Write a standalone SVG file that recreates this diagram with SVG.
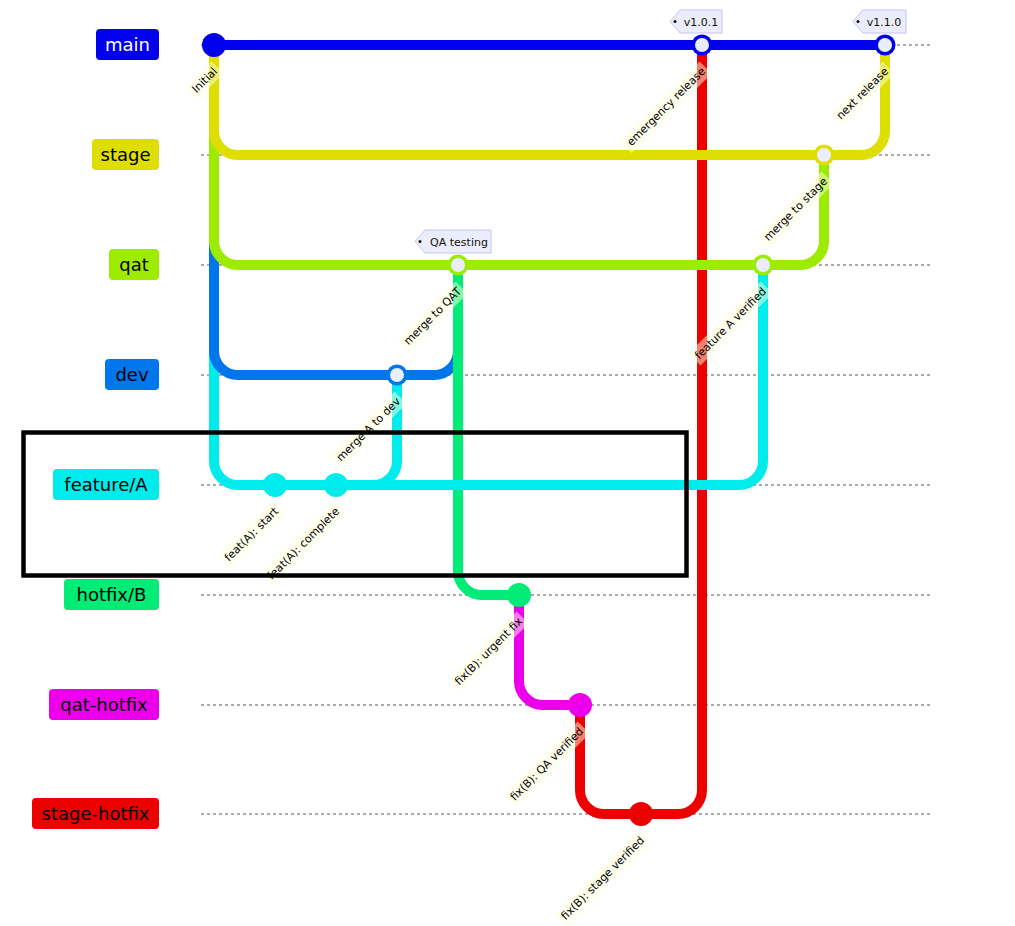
<svg xmlns="http://www.w3.org/2000/svg" width="1015" height="926" viewBox="0 0 1015 926">
<style>
.bl{stroke:#555;stroke-width:1;stroke-dasharray:3 3;fill:none}
.lbl{font-family:"DejaVu Sans",Verdana,sans-serif;font-size:18px;text-anchor:middle}
.ar{fill:none;stroke-width:10}
.clb{fill:#ffffde;opacity:0.5}
.clt{font-family:"DejaVu Sans",Verdana,sans-serif;font-size:11px;text-anchor:end;fill:#000}
.tag{fill:#ececff;stroke:#c4c4f0;stroke-width:1}
.tagt{font-family:"DejaVu Sans",Verdana,sans-serif;font-size:11px;text-anchor:middle;fill:#131300}
.inner{fill:#ececff}
</style>
<rect width="1015" height="926" fill="#fff"/>
<g id="branch-lines">
<line class="bl" x1="201" y1="45" x2="931" y2="45"/>
<line class="bl" x1="201" y1="155" x2="931" y2="155"/>
<line class="bl" x1="201" y1="265" x2="931" y2="265"/>
<line class="bl" x1="201" y1="375" x2="931" y2="375"/>
<line class="bl" x1="201" y1="485" x2="931" y2="485"/>
<line class="bl" x1="201" y1="595" x2="931" y2="595"/>
<line class="bl" x1="201" y1="705" x2="931" y2="705"/>
<line class="bl" x1="201" y1="814" x2="931" y2="814"/>
</g>
<g id="branch-main"><rect x="96" y="29" width="63" height="31" rx="4" fill="#0000ec"/><text class="lbl" x="127.5" y="51" fill="#fff">main</text></g>
<g id="branch-stage"><rect x="92" y="139" width="67" height="31" rx="4" fill="#dede00"/><text class="lbl" x="125.5" y="161" fill="#000">stage</text></g>
<g id="branch-qat"><rect x="109" y="249" width="50" height="31" rx="4" fill="#9dec00"/><text class="lbl" x="134" y="271" fill="#000">qat</text></g>
<g id="branch-dev"><rect x="105" y="359" width="54" height="31" rx="4" fill="#0076ec"/><text class="lbl" x="132" y="381" fill="#000">dev</text></g>
<g id="branch-featureA"><rect x="53" y="469" width="106" height="31" rx="4" fill="#00ecec"/><text class="lbl" x="106" y="491" fill="#000">feature/A</text></g>
<g id="branch-hotfixB"><rect x="64" y="579" width="95" height="31" rx="4" fill="#00ec76"/><text class="lbl" x="111.5" y="601" fill="#000">hotfix/B</text></g>
<g id="branch-qat-hotfix"><rect x="49" y="689" width="110" height="31" rx="4" fill="#ec00ec"/><text class="lbl" x="104" y="711" fill="#000">qat-hotfix</text></g>
<g id="branch-stage-hotfix"><rect x="32" y="798" width="127" height="31" rx="4" fill="#ec0000"/><text class="lbl" x="95.5" y="820" fill="#000">stage-hotfix</text></g>
<g id="connectors" class="ar">
<path stroke="#00ecec" d="M214 45 L214 461 A24 24 0 0 0 238 485 L275 485"/>
<path stroke="#00ecec" d="M275 485 L336 485"/>
<path stroke="#0076ec" d="M214 45 L214 351 A24 24 0 0 0 238 375 L397 375"/>
<path stroke="#00ecec" d="M336 485 L373 485 A24 24 0 0 0 397 461 L397 375"/>
<path stroke="#9dec00" d="M214 45 L214 241 A24 24 0 0 0 238 265 L458 265"/>
<path stroke="#0076ec" d="M397 375 L434 375 A24 24 0 0 0 458 351 L458 265"/>
<path stroke="#00ec76" d="M458 265 L458 571 A24 24 0 0 0 482 595 L519 595"/>
<path stroke="#ec00ec" d="M519 595 L519 681 A24 24 0 0 0 543 705 L580 705"/>
<path stroke="#ec0000" d="M580 705 L580 790 A24 24 0 0 0 604 814 L641 814"/>
<path stroke="#0000ec" d="M214 45 L702 45"/>
<path stroke="#ec0000" d="M641 814 L678 814 A24 24 0 0 0 702 790 L702 45"/>
<path stroke="#9dec00" d="M458 265 L763 265"/>
<path stroke="#00ecec" d="M336 485 L739 485 A24 24 0 0 0 763 461 L763 265"/>
<path stroke="#dede00" d="M214 45 L214 131 A24 24 0 0 0 238 155 L824 155"/>
<path stroke="#9dec00" d="M763 265 L800 265 A24 24 0 0 0 824 241 L824 155"/>
<path stroke="#0000ec" d="M702 45 L885 45"/>
<path stroke="#dede00" d="M824 155 L861 155 A24 24 0 0 0 885 131 L885 45"/>
</g>
<g id="commit-initial"><circle cx="214" cy="45" r="12" fill="#0000ec"/></g>
<g id="commit-feat-start"><circle cx="275" cy="485" r="12" fill="#00ecec"/></g>
<g id="commit-feat-complete"><circle cx="336" cy="485" r="12" fill="#00ecec"/></g>
<g id="commit-merge-a-dev"><circle cx="397" cy="375" r="10.5" fill="#0076ec"/><circle class="inner" cx="397" cy="375" r="7"/></g>
<g id="commit-merge-qat"><circle cx="458" cy="265" r="10.5" fill="#9dec00"/><circle class="inner" cx="458" cy="265" r="7"/></g>
<g id="commit-urgent-fix"><circle cx="519" cy="595" r="12" fill="#00ec76"/></g>
<g id="commit-qa-verified"><circle cx="580" cy="705" r="12" fill="#ec00ec"/></g>
<g id="commit-stage-verified"><circle cx="641" cy="814" r="12" fill="#ec0000"/></g>
<g id="commit-emergency"><circle cx="702" cy="45" r="10.5" fill="#0000ec"/><circle class="inner" cx="702" cy="45" r="7"/></g>
<g id="commit-feature-a-verified"><circle cx="763" cy="265" r="10.5" fill="#9dec00"/><circle class="inner" cx="763" cy="265" r="7"/></g>
<g id="commit-merge-stage"><circle cx="824" cy="155" r="10.5" fill="#dede00"/><circle class="inner" cx="824" cy="155" r="7"/></g>
<g id="commit-next-release"><circle cx="885" cy="45" r="10.5" fill="#0000ec"/><circle class="inner" cx="885" cy="45" r="7"/></g>
<g id="commit-labels">
<g transform="translate(218 72) rotate(-45)"><rect class="clb" x="-34" y="-12" width="37" height="17"/><text class="clt">Initial</text></g>
<g transform="translate(279 512) rotate(-45)"><rect class="clb" x="-74" y="-12" width="77" height="17"/><text class="clt">feat(A): start</text></g>
<g transform="translate(340 512) rotate(-45)"><rect class="clb" x="-100" y="-12" width="103" height="17"/><text class="clt">feat(A): complete</text></g>
<g transform="translate(401 402) rotate(-45)"><rect class="clb" x="-88" y="-12" width="91" height="17"/><text class="clt">merge A to dev</text></g>
<g transform="translate(462 292) rotate(-45)"><rect class="clb" x="-80" y="-12" width="83" height="17"/><text class="clt">merge to QAT</text></g>
<g transform="translate(523 622) rotate(-45)"><rect class="clb" x="-93" y="-12" width="96" height="17"/><text class="clt">fix(B): urgent fix</text></g>
<g transform="translate(584 732) rotate(-45)"><rect class="clb" x="-101" y="-12" width="104" height="17"/><text class="clt">fix(B): QA verified</text></g>
<g transform="translate(645 841) rotate(-45)"><rect class="clb" x="-115" y="-12" width="118" height="17"/><text class="clt">fix(B): stage verified</text></g>
<g transform="translate(706 72) rotate(-45)"><rect class="clb" x="-110" y="-12" width="113" height="17"/><text class="clt">emergency release</text></g>
<g transform="translate(767 292) rotate(-45)"><rect class="clb" x="-99" y="-12" width="102" height="17"/><text class="clt">feature A verified</text></g>
<g transform="translate(828 182) rotate(-45)"><rect class="clb" x="-87" y="-12" width="90" height="17"/><text class="clt">merge to stage</text></g>
<g transform="translate(889 72) rotate(-45)"><rect class="clb" x="-71" y="-12" width="74" height="17"/><text class="clt">next release</text></g>
</g>
<g id="tag-v101"><polygon class="tag" points="670,21.5 680,10 722,10 722,33 680,33"/><circle cx="675" cy="21.5" r="1.5" fill="#131300"/><text class="tagt" x="701" y="26">v1.0.1</text></g>
<g id="tag-v110"><polygon class="tag" points="853,21.5 863,10 906,10 906,33 863,33"/><circle cx="858" cy="21.5" r="1.5" fill="#131300"/><text class="tagt" x="884" y="26">v1.1.0</text></g>
<g id="tag-qa"><polygon class="tag" points="415,241.5 425,230 491,230 491,253 425,253"/><circle cx="420" cy="241.5" r="1.5" fill="#131300"/><text class="tagt" x="459" y="246">QA testing</text></g>
<g id="highlight-box"><rect x="23.5" y="432.5" width="663" height="143" fill="none" stroke="#000" stroke-width="4.5"/></g>
</svg>
